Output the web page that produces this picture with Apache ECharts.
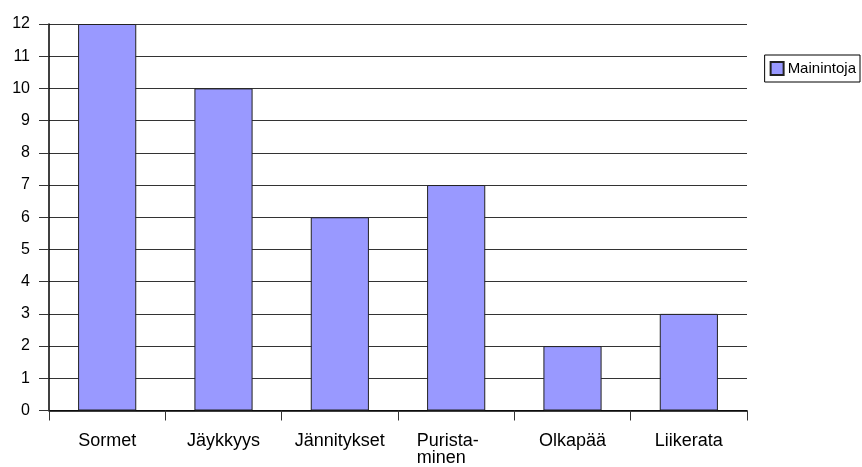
<!DOCTYPE html>
<html>
<head>
<meta charset="utf-8">
<script src="https://cdn.jsdelivr.net/npm/echarts@6/dist/echarts.min.js"></script>
<style>
  html, body { margin: 0; padding: 0; background: #fff; }
  #chart { width: 862px; height: 467px; }
</style>
</head>
<body>
<div id="chart"></div>
<script>
// Mentions per topic
const categories = ['Sormet', 'Jäykkyys', 'Jännitykset', 'Purista-\nminen', 'Olkapää', 'Liikerata'];
const seriesName = 'Mainintoja';
const mentions = [12, 10, 6, 7, 2, 3];
const yTicks = { min: 0, max: 12, interval: 1 };

const font = 'Liberation Sans, Arial, sans-serif';
const chart = echarts.init(document.getElementById('chart'), null, { renderer: 'canvas' });

chart.setOption({
  animation: false,
  backgroundColor: '#ffffff',
  grid: { left: 49, right: 115, top: 24, bottom: 56, containLabel: false },
  legend: {
    right: 2,
    top: 55,
    orient: 'vertical',
    data: [seriesName],
    icon: 'rect',
    itemWidth: 13,
    itemHeight: 13,
    itemGap: 5,
    padding: [6, 4, 6, 5],
    borderColor: '#000',
    borderWidth: 1,
    textStyle: { fontFamily: font, fontSize: 15, color: '#000', padding: [0, 0, 0, -1] }
  },
  xAxis: {
    type: 'category',
    data: categories,
    axisLine: { lineStyle: { color: '#000', width: 1.5 } },
    axisTick: { show: true, length: 10, lineStyle: { color: '#333' } },
    axisLabel: {
      interval: 0,
      margin: 22,
      fontFamily: font,
      fontSize: 18,
      color: '#000',
      lineHeight: 17,
      formatter: function (v) {
        if (v.indexOf('\n') >= 0) {
          return v.split('\n').map(function (s) { return '{w|' + s + '}'; }).join('\n');
        }
        return v;
      },
      rich: {
        w: { width: 62, align: 'left', fontFamily: font, fontSize: 18, lineHeight: 17, color: '#000', padding: [0, 17, 0, 0] }
      }
    },
    splitLine: { show: false }
  },
  yAxis: {
    type: 'value',
    min: yTicks.min,
    max: yTicks.max,
    interval: yTicks.interval,
    axisLine: { show: true, lineStyle: { color: '#000', width: 1.5 } },
    axisTick: { show: true, length: 10, lineStyle: { color: '#333' } },
    axisLabel: { margin: 19, fontFamily: font, fontSize: 16, color: '#000' },
    splitLine: { show: true, lineStyle: { color: '#333', width: 1 } }
  },
  series: [{
    name: seriesName,
    type: 'bar',
    data: mentions,
    barWidth: '50%',
    itemStyle: { color: '#9999ff', borderColor: '#222', borderWidth: 1 }
  }]
});
</script>
</body>
</html>
